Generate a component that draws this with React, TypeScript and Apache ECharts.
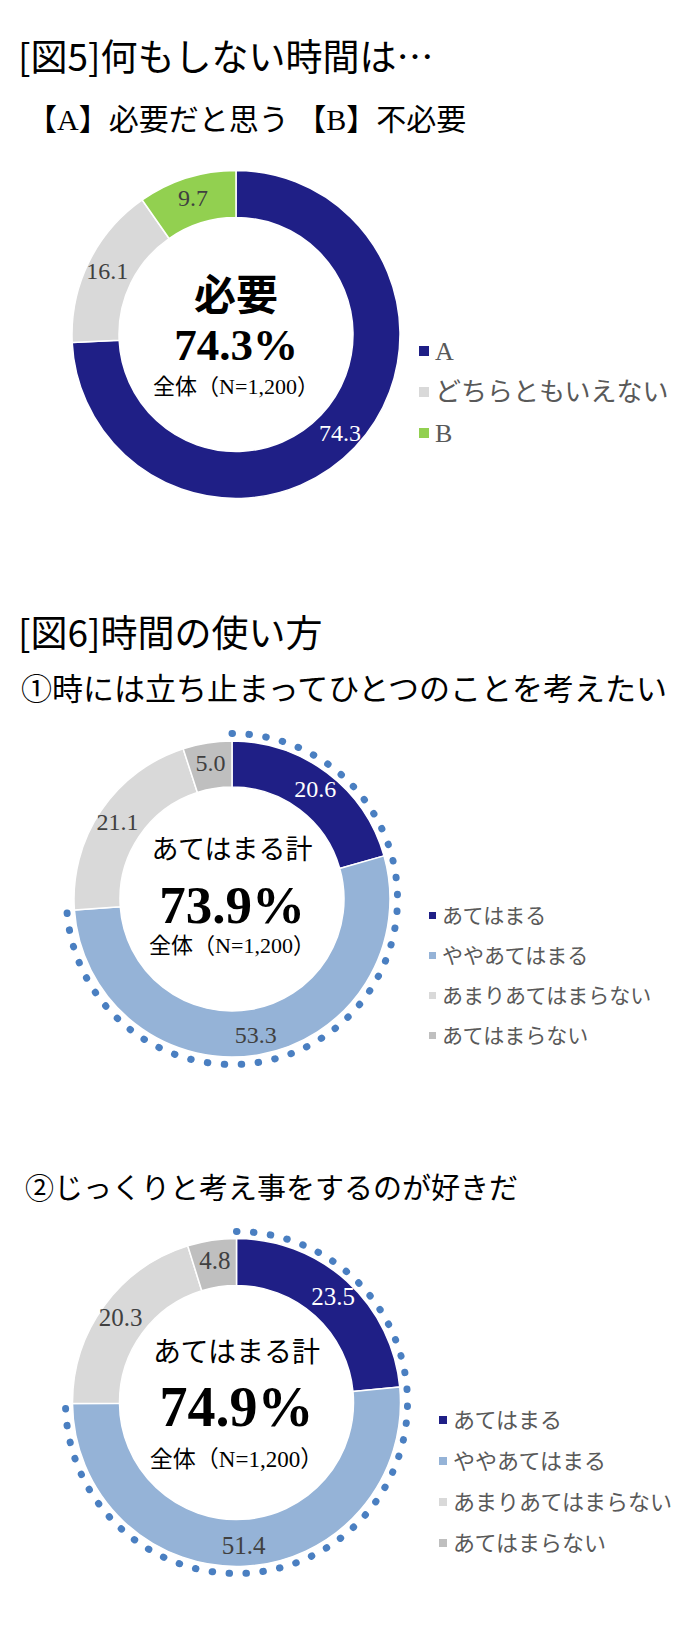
import React, { useEffect, useRef } from "react";
import * as echarts from "echarts";

// ---------- data ----------
const chart1Names = ["A", "どちらともいえない", "B"];
const chart1Values = [74.3, 16.1, 9.7];
const chart1Colors = ["#1F1F86", "#D9D9D9", "#92D050"];
const chart1LabelColors = ["#FFFFFF", "#404040", "#404040"];

const scaleNames = ["あてはまる", "ややあてはまる", "あまりあてはまらない", "あてはまらない"];
const chart2Values = [20.6, 53.3, 21.1, 5.0];
const chart3Values = [23.5, 51.4, 20.3, 4.8];
const scaleColors = ["#1F1F86", "#95B3D7", "#D9D9D9", "#BFBFBF"];
const scaleLabelColors = ["#FFFFFF", "#404040", "#404040", "#404040"];

const title1 = "[図5]何もしない時間は…";
const subtitle1 = "【A】必要だと思う 【B】不必要";
const title2 = "[図6]時間の使い方";
const subtitle2 = "①時には立ち止まってひとつのことを考えたい";
const subtitle3 = "②じっくりと考え事をするのが好きだ";
const center1Head = "必要";
const centerHead = "あてはまる計";
const sampleText = "全体（N=1,200）";

const SANS = "'Noto Sans CJK JP', sans-serif";
const SERIF = "'Liberation Serif', 'Noto Sans CJK JP', serif";

function makePie(
  names: string[],
  values: number[],
  colors: string[],
  labelColors: string[],
  center: [number, number],
  radius: [number, number],
  labelSize: number
) {
  return {
    type: "pie",
    center,
    radius,
    startAngle: 90,
    clockwise: true,
    silent: true,
    avoidLabelOverlap: false,
    itemStyle: { borderColor: "#FFFFFF", borderWidth: 1.5 },
    label: {
      show: true,
      position: "inside",
      fontFamily: SERIF,
      fontSize: labelSize,
      formatter: (p: any) => Number(p.value).toFixed(1),
    },
    labelLine: { show: false },
    emphasis: { disabled: true },
    data: names.map((n, i) => ({
      name: n,
      value: values[i],
      itemStyle: { color: colors[i] },
      label: { color: labelColors[i] },
    })),
  };
}

function dottedArc(cx: number, cy: number, r: number, values: number[], count: number) {
  const total = values.reduce((a, b) => a + b, 0);
  const part = values.slice(0, count).reduce((a, b) => a + b, 0);
  const start = -Math.PI / 2;
  return {
    type: "arc",
    silent: true,
    shape: { cx, cy, r, startAngle: start, endAngle: start + (2 * Math.PI * part) / total, clockwise: true },
    style: { stroke: "#4A7FC1", fill: "none", lineWidth: 7, lineCap: "round", lineDash: [0.5, 16.5] },
  };
}

function txt(text: string, x: number, y: number, size: number, opts: any = {}) {
  return {
    type: "text",
    silent: true,
    x,
    y,
    style: {
      text,
      fontSize: size,
      fontFamily: opts.family || SANS,
      fontWeight: opts.weight || "normal",
      fill: opts.color || "#000000",
      align: opts.align || "left",
      verticalAlign: "middle",
    },
  };
}

const sum2 = (v: number[]) => (v[0] + v[1]).toFixed(1) + "%";

export default function App() {
  const ref = useRef<HTMLDivElement>(null);
  useEffect(() => {
    if (!ref.current) return;
    const chart = echarts.init(ref.current, undefined, { renderer: "svg" });
    const c1: [number, number] = [236, 334.5];
    const c2: [number, number] = [232, 899];
    const c3: [number, number] = [236.5, 1402.5];
    chart.setOption({
      animation: false,
      backgroundColor: "#FFFFFF",
      legend: [
        {
          data: chart1Names,
          orient: "vertical",
          left: 412,
          top: 333,
          icon: "rect",
          itemWidth: 12,
          itemHeight: 12,
          itemGap: 15,
          selectedMode: false,
          textStyle: { fontSize: 26, lineHeight: 26, color: "#595959", fontFamily: SERIF },
        },
        {
          data: scaleNames,
          orient: "vertical",
          left: 422,
          top: 900,
          icon: "rect",
          itemWidth: 9,
          itemHeight: 9,
          itemGap: 19,
          selectedMode: false,
          textStyle: { fontSize: 21, lineHeight: 21, color: "#595959", fontFamily: SERIF },
        },
        {
          data: scaleNames,
          orient: "vertical",
          left: 432,
          top: 1404,
          icon: "rect",
          itemWidth: 10,
          itemHeight: 10,
          itemGap: 19,
          selectedMode: false,
          textStyle: { fontSize: 22, lineHeight: 22, color: "#595959", fontFamily: SERIF },
        },
      ],
      series: [
        makePie(chart1Names, chart1Values, chart1Colors, chart1LabelColors, c1, [117, 164], 24),
        makePie(scaleNames, chart2Values, scaleColors, scaleLabelColors, c2, [112, 158], 24),
        makePie(scaleNames, chart3Values, scaleColors, scaleLabelColors, c3, [117, 164], 25),
      ],
      graphic: [
        txt(title1, 18, 55, 37),
        txt(subtitle1, 27, 119, 30, { family: SERIF }),
        txt(title2, 18, 631, 37),
        txt(subtitle2, 21, 689, 31, { family: SERIF }),
        txt(subtitle3, 25, 1189, 29, { family: SERIF }),

        txt(center1Head, c1[0], 291, 42, { align: "center", weight: "bold" }),
        txt(chart1Values[0].toFixed(1) + "%", c1[0], 345, 45, { align: "center", family: SERIF, weight: "bold" }),
        txt(sampleText, c1[0], 386, 22, { align: "center", family: SERIF }),

        dottedArc(c2[0], c2[1], 165.5, chart2Values, 2),
        txt(centerHead, c2[0], 850, 27, { align: "center", family: SERIF }),
        txt(sum2(chart2Values), c2[0], 905, 53, { align: "center", family: SERIF, weight: "bold" }),
        txt(sampleText, c2[0], 945, 22, { align: "center", family: SERIF }),

        dottedArc(c3[0], c3[1], 171, chart3Values, 2),
        txt(centerHead, c3[0], 1352, 28, { align: "center", family: SERIF }),
        txt(sum2(chart3Values), c3[0], 1407, 56, { align: "center", family: SERIF, weight: "bold" }),
        txt(sampleText, c3[0], 1459, 23, { align: "center", family: SERIF }),
      ],
    });
    return () => chart.dispose();
  }, []);
  return (
    <div
      ref={ref}
      style={{ position: "absolute", left: 0, top: 0, width: 684, height: 1640, background: "#FFFFFF" }}
    />
  );
}
